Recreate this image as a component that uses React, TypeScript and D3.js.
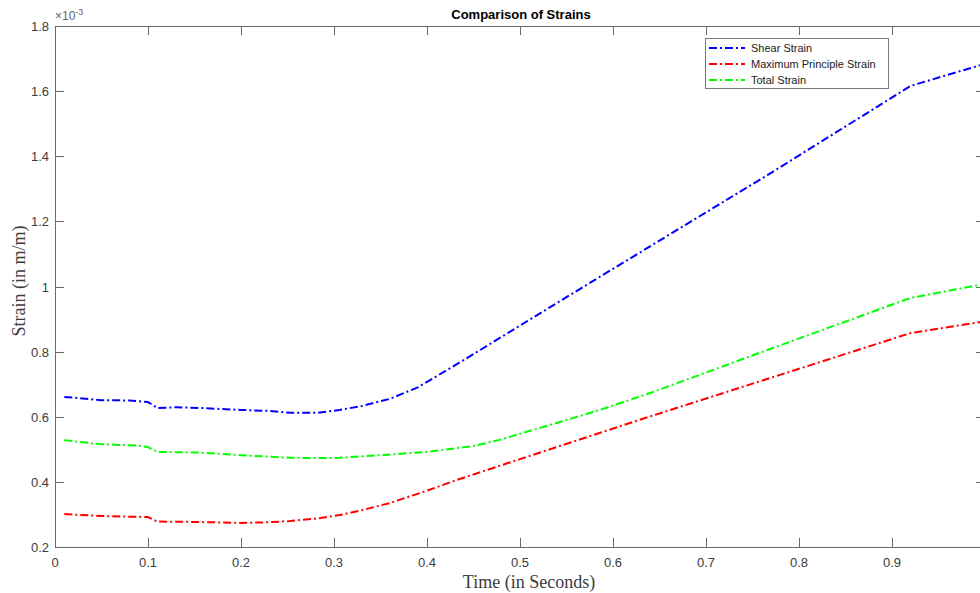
import React, { useEffect, useRef } from "react";
import * as d3 from "d3";

const shearT = [0.01, 0.05, 0.08, 0.1, 0.11, 0.13, 0.156, 0.2, 0.23, 0.253, 0.282, 0.306, 0.33, 0.36, 0.39, 0.44, 0.5, 0.586, 0.766, 0.92, 1.0];
const shearV = [0.661, 0.651, 0.65, 0.645, 0.627, 0.629, 0.627, 0.621, 0.618, 0.612, 0.612, 0.621, 0.633, 0.655, 0.69, 0.775, 0.88, 1.03, 1.342, 1.616, 1.684];

const principalT = [0.01, 0.05, 0.1, 0.11, 0.15, 0.2, 0.23, 0.253, 0.28, 0.306, 0.33, 0.36, 0.4, 0.432, 0.5, 0.628, 0.92, 1.0];
const principalV = [0.301, 0.295, 0.292, 0.278, 0.277, 0.274, 0.276, 0.28, 0.287, 0.298, 0.313, 0.335, 0.373, 0.406, 0.47, 0.59, 0.857, 0.893];

const totalT = [0.01, 0.048, 0.09, 0.1, 0.11, 0.156, 0.2, 0.253, 0.289, 0.306, 0.35, 0.4, 0.45, 0.478, 0.55, 0.586, 0.64, 0.766, 0.92, 1.0];
const totalV = [0.528, 0.516, 0.511, 0.507, 0.492, 0.49, 0.482, 0.474, 0.473, 0.474, 0.482, 0.492, 0.51, 0.529, 0.59, 0.621, 0.673, 0.805, 0.965, 1.008];

const xTicks = [0, 0.1, 0.2, 0.3, 0.4, 0.5, 0.6, 0.7, 0.8, 0.9];
const yTicks = [0.2, 0.4, 0.6, 0.8, 1, 1.2, 1.4, 1.6, 1.8];

const seriesNames = ["Shear Strain", "Maximum Principle Strain", "Total Strain"];
const seriesColors = ["#0000ff", "#ff0000", "#00ff00"];

export default function App() {
  const ref = useRef<SVGSVGElement>(null);

  useEffect(() => {
    document.body.style.margin = "0";
    const svg = d3.select(ref.current);
    svg.selectAll("*").remove();

    const left = 55, right = 985, top = 26, bottom = 547;
    const x = d3.scaleLinear().domain([0, 1]).range([left, right]);
    const y = d3.scaleLinear().domain([0.2, 1.8]).range([bottom, top]);
    const axisColor = "#6a6a6a";
    const textColor = "#3c3c3c";
    const font = "'Liberation Sans', Arial, sans-serif";
    const serif = "'Liberation Serif', 'Times New Roman', serif";

    svg.append("rect").attr("width", 980).attr("height", 593).attr("fill", "#fff");

    const g = svg.append("g");
    g.append("rect").attr("x", left).attr("y", top).attr("width", right - left).attr("height", bottom - top)
      .attr("fill", "none").attr("stroke", axisColor).attr("stroke-width", 1).attr("shape-rendering", "crispEdges");

    const tl = 9;
    xTicks.forEach((t) => {
      const px = Math.round(x(t)) + 0.5;
      g.append("line").attr("x1", px).attr("x2", px).attr("y1", bottom).attr("y2", bottom - tl).attr("stroke", axisColor);
      g.append("line").attr("x1", px).attr("x2", px).attr("y1", top).attr("y2", top + tl).attr("stroke", axisColor);
      g.append("text").attr("x", x(t)).attr("y", bottom + 20).attr("text-anchor", "middle")
        .attr("font-family", font).attr("font-size", 13).attr("fill", textColor).text(d3.format("~g")(t));
    });
    yTicks.forEach((t) => {
      const py = Math.round(y(t)) + 0.5;
      g.append("line").attr("x1", left).attr("x2", left + tl).attr("y1", py).attr("y2", py).attr("stroke", axisColor);
      g.append("line").attr("x1", right).attr("x2", right - tl).attr("y1", py).attr("y2", py).attr("stroke", axisColor);
      g.append("text").attr("x", left - 6).attr("y", y(t) + 5).attr("text-anchor", "end")
        .attr("font-family", font).attr("font-size", 13).attr("fill", textColor).text(d3.format("~g")(t));
    });

    const ex = g.append("text").attr("x", left).attr("y", 20).attr("font-family", font).attr("fill", "#666").attr("font-size", 12);
    ex.append("tspan").text("×10");
    ex.append("tspan").attr("font-size", 9).attr("dy", -5).text("-3");

    g.append("text").attr("x", 521).attr("y", 19).attr("text-anchor", "middle").attr("font-family", font)
      .attr("font-weight", "bold").attr("font-size", 13).attr("fill", "#000").text("Comparison of Strains");

    g.append("text").attr("x", 529).attr("y", 588).attr("text-anchor", "middle").attr("font-family", serif)
      .attr("font-size", 18).attr("fill", textColor).text("Time (in Seconds)");
    g.append("text").attr("transform", "translate(25,281) rotate(-90)").attr("text-anchor", "middle").attr("font-family", serif)
      .attr("font-size", 18).attr("fill", textColor).text("Strain (in m/m)");

    const series = [
      { t: shearT, v: shearV },
      { t: principalT, v: principalV },
      { t: totalT, v: totalV },
    ];
    const line = d3.line<[number, number]>().x((d) => x(d[0])).y((d) => y(d[1]));
    const dash = "8,3,2,3";
    series.forEach((s, i) => {
      const pts: [number, number][] = s.t.map((t, j) => [t, s.v[j]]);
      g.append("path").attr("d", line(pts) as string).attr("fill", "none").attr("stroke", seriesColors[i])
        .attr("stroke-width", 2).attr("stroke-dasharray", dash).attr("stroke-linejoin", "round");
    });

    const lx = 705, ly = 38, lw = 183, lh = 50;
    g.append("rect").attr("x", lx + 0.5).attr("y", ly + 0.5).attr("width", lw).attr("height", lh)
      .attr("fill", "#fff").attr("stroke", "#7a7a7a").attr("stroke-width", 1);
    seriesNames.forEach((name, i) => {
      const yy = ly + 10 + i * 16;
      g.append("line").attr("x1", lx + 4).attr("x2", lx + 40).attr("y1", yy).attr("y2", yy)
        .attr("stroke", seriesColors[i]).attr("stroke-width", 2).attr("stroke-dasharray", dash);
      g.append("text").attr("x", lx + 46).attr("y", yy + 4).attr("font-family", font).attr("font-size", 11)
        .attr("fill", "#222").text(name);
    });
  }, []);

  return <svg ref={ref} width={980} height={593} style={{ display: "block" }} />;
}
